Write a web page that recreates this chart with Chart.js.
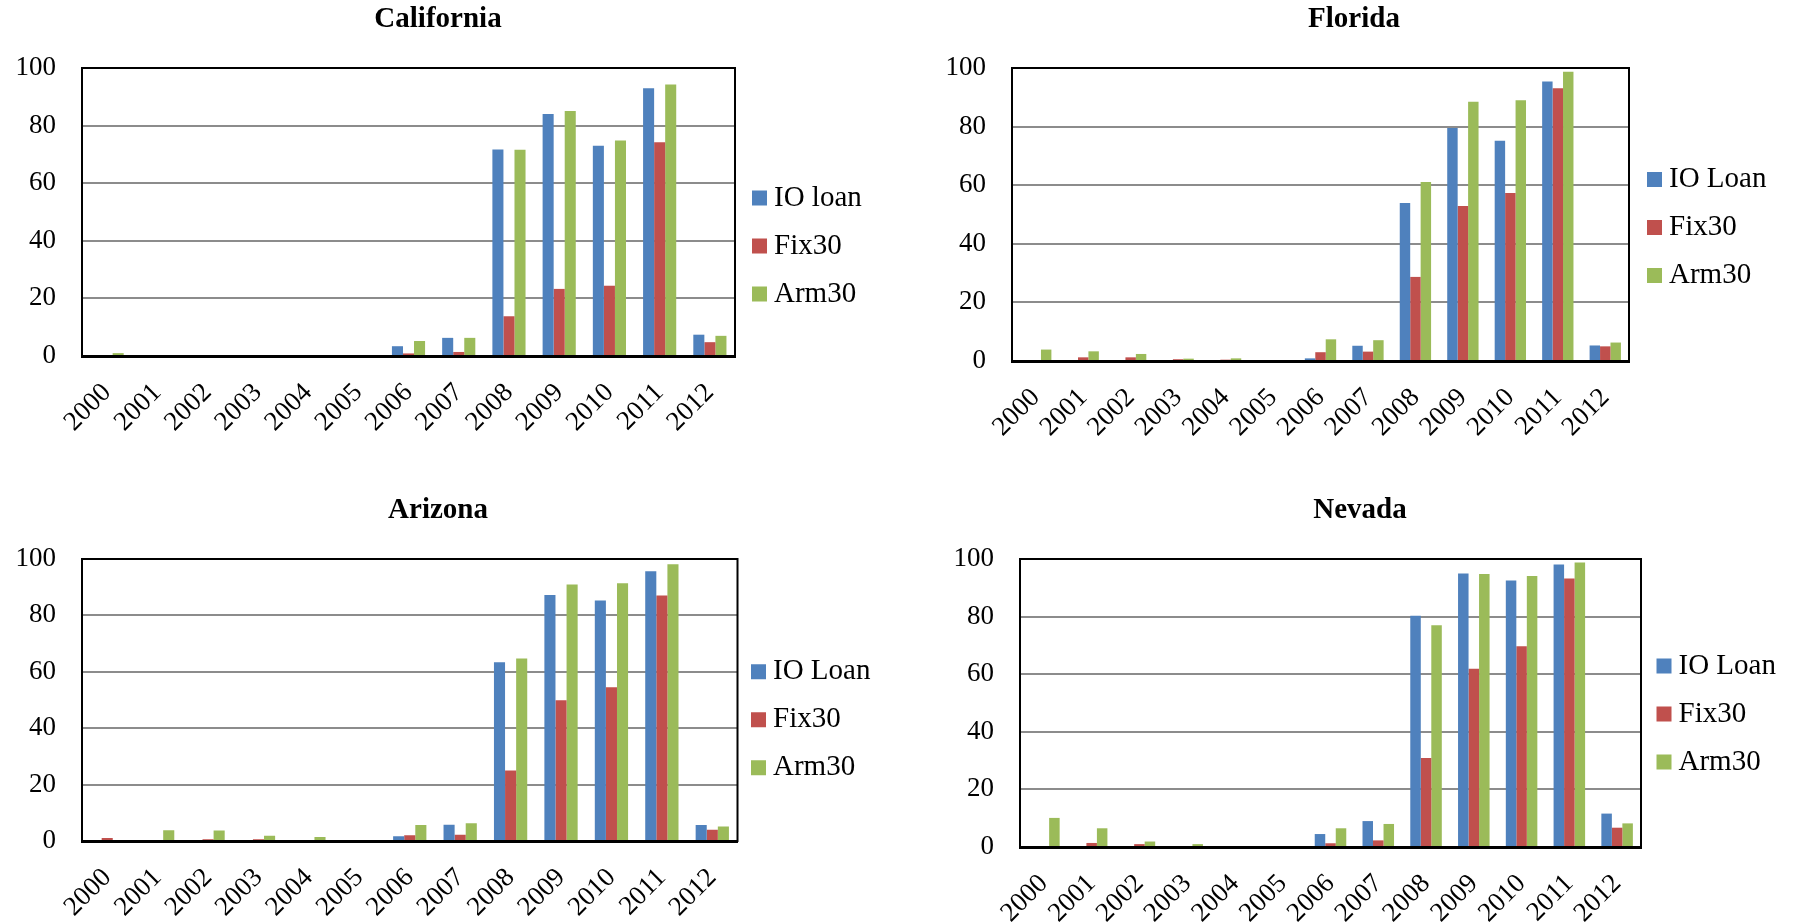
<!DOCTYPE html>
<html>
<head>
<meta charset="utf-8">
<script src="https://cdn.jsdelivr.net/npm/chart.js@4/dist/chart.umd.min.js"></script>
<style>
  html, body { margin: 0; padding: 0; background: #ffffff; width: 1794px; height: 923px; overflow: hidden; }
  canvas { position: absolute; }
</style>
</head>
<body>
<canvas id="california"></canvas>
<canvas id="florida"></canvas>
<canvas id="arizona"></canvas>
<canvas id="nevada"></canvas>
<script>
// ---- data -------------------------------------------------------------
const years = ['2000', '2001', '2002', '2003', '2004', '2005', '2006',
               '2007', '2008', '2009', '2010', '2011', '2012'];
const yTicks = [0, 20, 40, 60, 80, 100];

const californiaIO  = [0, 0, 0, 0, 0, 0, 3.4, 6.3, 71.7, 84.0, 73.0, 93.0, 7.4];
const californiaFix = [0.35, 0, 0, 0, 0, 0, 0.9, 1.4, 13.8, 23.3, 24.4, 74.2, 4.8];
const californiaArm = [1.0, 0, 0, 0, 0, 0, 5.2, 6.3, 71.6, 85.1, 74.8, 94.3, 7.0];

const floridaIO  = [0, 0, 0, 0, 0, 0, 0.9, 5.2, 53.9, 79.5, 75.2, 95.4, 5.3];
const floridaFix = [0, 1.25, 1.25, 0.6, 0.45, 0.3, 3.0, 3.2, 28.7, 52.9, 57.3, 93.1, 5.0];
const floridaArm = [3.9, 3.3, 2.4, 0.8, 0.9, 0, 7.4, 7.1, 61.1, 88.5, 89.0, 98.7, 6.3];

const arizonaIO  = [0, 0, 0, 0, 0, 0, 1.7, 5.8, 63.4, 87.2, 85.3, 95.7, 5.7];
const arizonaFix = [1.1, 0, 0.6, 0.6, 0.3, 0, 2.0, 2.2, 25.0, 49.9, 54.5, 87.1, 4.0];
const arizonaArm = [0, 3.8, 3.7, 1.9, 1.4, 0, 5.7, 6.3, 64.7, 91.0, 91.4, 98.1, 5.1];

const nevadaIO  = [0, 0, 0, 0, 0, 0.3, 4.5, 9.0, 80.3, 95.0, 92.5, 98.1, 11.6];
const nevadaFix = [0, 1.4, 1.0, 0, 0, 0, 1.3, 2.3, 30.9, 61.9, 69.7, 93.2, 6.7];
const nevadaArm = [10.1, 6.5, 1.9, 1.0, 0, 0, 6.5, 8.0, 77.0, 94.8, 94.1, 98.8, 8.2];

// ---- styling ----------------------------------------------------------
const FONT = 'Liberation Serif, Times New Roman, serif';
const COLORS = { io: '#4F81BD', fix: '#C0504D', arm: '#9BBB59' };
const TITLE_SIZE = 29;
const TITLE_LH = TITLE_SIZE * 1.2;
const KEY_PAD = 19;        // vertical gap between legend entries
const Y_AXIS_W = 80;       // room for the value labels left of the plot
const X_AXIS_H = 100;      // room kept under the plot for the slanted year labels

// black frame around the plotting area
const framePlugin = {
  id: 'frame',
  afterDraw(chart) {
    const { ctx, chartArea: a } = chart;
    ctx.save();
    ctx.strokeStyle = '#000';
    ctx.lineWidth = 2;
    ctx.strokeRect(a.left, a.top, a.right - a.left, a.bottom - a.top);
    ctx.restore();
  }
};

// panel placement on the page
const panels = [
  { id: 'california', title: 'California', ioName: 'IO loan', io: californiaIO, fix: californiaFix, arm: californiaArm,
    left: 0, top: 0, plotL: 82, plotR: 735, plotT: 68, plotB: 356, titleCx: 438, titleMid: 19.5, keyX: 759.5, keyY: 198 },
  { id: 'florida', title: 'Florida', ioName: 'IO Loan', io: floridaIO, fix: floridaFix, arm: floridaArm,
    left: 900, top: 0, plotL: 1012, plotR: 1629, plotT: 68, plotB: 361, titleCx: 1354, titleMid: 19.5, keyX: 1654.5, keyY: 179.5 },
  { id: 'arizona', title: 'Arizona', ioName: 'IO Loan', io: arizonaIO, fix: arizonaFix, arm: arizonaArm,
    left: 0, top: 470, plotL: 82, plotR: 737.5, plotT: 559, plotB: 841, titleCx: 438, titleMid: 510.2, keyX: 758.5, keyY: 671.7 },
  { id: 'nevada', title: 'Nevada', ioName: 'IO Loan', io: nevadaIO, fix: nevadaFix, arm: nevadaArm,
    left: 900, top: 470, plotL: 1020, plotR: 1641, plotT: 559, plotB: 847, titleCx: 1360, titleMid: 510.2, keyX: 1664, keyY: 666 }
];

Chart.defaults.font.family = FONT;
Chart.defaults.color = '#000';

function drawPanel(p) {
  const keyLeft = p.keyX - KEY_PAD;
  const padL = p.plotL - p.left - Y_AXIS_W;
  const keyRight = 2 * p.titleCx - p.left - padL;   // keeps the title centred over the whole panel
  const keyW = keyRight - keyLeft;
  const padR = 10;
  const W = keyRight + padR - p.left;
  const gapW = keyLeft - p.plotR;
  const padT = p.titleMid - p.top - TITLE_LH / 2;
  const titleGap = p.plotT - (p.top + padT + TITLE_LH);
  const H = p.plotB - p.top + X_AXIS_H;
  const keyTitleH = p.keyY - (p.top + padT) - KEY_PAD - 14.5;

  const canvas = document.getElementById(p.id);
  canvas.width = Math.round(W);
  canvas.height = Math.round(H);
  canvas.style.left = p.left + 'px';
  canvas.style.top = p.top + 'px';

  new Chart(canvas, {
    type: 'bar',
    data: {
      labels: years,
      datasets: [
        { label: p.ioName, data: p.io,  backgroundColor: COLORS.io,  borderWidth: 0 },
        { label: 'Fix30',  data: p.fix, backgroundColor: COLORS.fix, borderWidth: 0 },
        { label: 'Arm30',  data: p.arm, backgroundColor: COLORS.arm, borderWidth: 0 }
      ]
    },
    options: {
      responsive: false,
      animation: false,
      events: [],
      devicePixelRatio: 1,
      layout: { padding: { left: padL, right: padR, top: padT, bottom: 0 } },
      datasets: { bar: { categoryPercentage: 0.66, barPercentage: 1.0 } },
      plugins: {
        title: {
          display: true,
          text: p.title,
          color: '#000',
          font: { family: FONT, size: TITLE_SIZE, weight: 'bold' },
          padding: { top: 0, bottom: titleGap }
        },
        legend: {
          position: 'right',
          align: 'start',
          maxWidth: keyW,
          title: { display: true, text: '', font: { size: 10 }, padding: { top: keyTitleH - 12, bottom: 0 } },
          labels: {
            usePointStyle: true,
            pointStyle: 'rect',
            boxWidth: 0.01,
            boxHeight: 15,
            padding: KEY_PAD,
            color: '#000',
            font: { family: FONT, size: 29 },
            // trailing em spaces widen the measured entries so the fixed maxWidth always applies
            generateLabels(chart) {
              return Chart.defaults.plugins.legend.labels.generateLabels(chart)
                .map(item => Object.assign(item, { text: item.text + '\u2003\u2003\u2003' }));
            }
          }
        },
        tooltip: { enabled: false }
      },
      scales: {
        x: {
          grid: { display: false, drawTicks: false },
          border: { display: true, color: '#000', width: 3 },
          ticks: {
            autoSkip: false,
            minRotation: 45,
            maxRotation: 45,
            padding: 21,
            color: '#000',
            font: { family: FONT, size: 27 }
          },
          afterFit(s) { s.height = X_AXIS_H; }
        },
        y: {
          min: 0,
          max: 100,
          afterBuildTicks(s) { s.ticks = yTicks.map(v => ({ value: v })); },
          grid: { color: '#8c8c8c', lineWidth: 2, drawTicks: false },
          border: { display: true, color: '#000', width: 2 },
          ticks: { padding: 26, color: '#000', font: { family: FONT, size: 27 } },
          afterFit(s) { s.width = Y_AXIS_W; }
        },
        gap: {
          type: 'linear',
          position: 'right',
          display: true,
          grid: { display: false, drawTicks: false },
          border: { display: false },
          ticks: { display: false },
          afterFit(s) { s.width = gapW; }
        }
      }
    },
    plugins: [framePlugin]
  });
}

panels.forEach(drawPanel);
</script>
</body>
</html>
